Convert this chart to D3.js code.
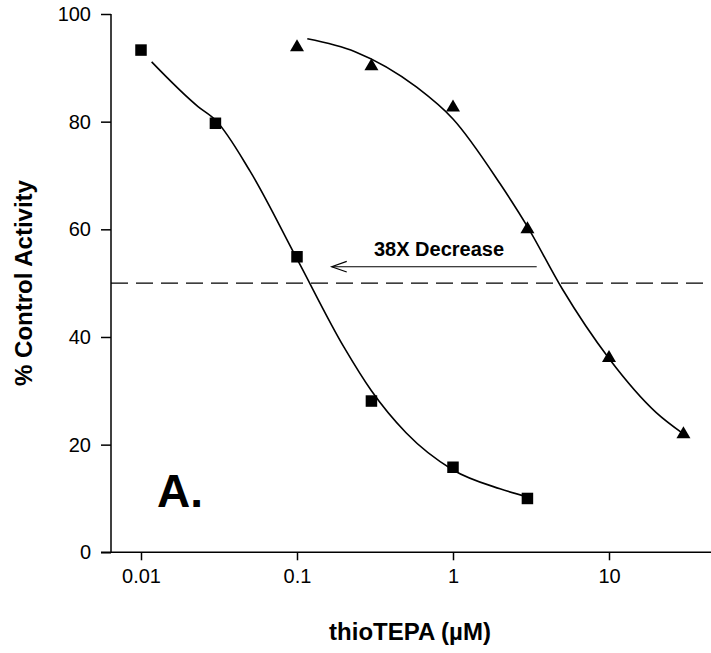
<!DOCTYPE html>
<html>
<head>
<meta charset="utf-8">
<script src="https://cdn.jsdelivr.net/npm/d3@7"></script>
<style>
  html, body { margin: 0; padding: 0; background: #fff; }
  svg { display: block; font-family: "Liberation Sans", Arial, Helvetica, sans-serif; }
</style>
</head>
<body>
<svg id="chart" width="711" height="653"></svg>
<script>
// Measured points: thioTEPA concentration (µM) vs % control activity
const squareConc = [0.01, 0.03, 0.1, 0.3, 1, 3];
const squareActivity = [93.3, 79.7, 54.9, 28.1, 15.8, 10.0];
const triangleConc = [0.1, 0.3, 1, 3, 10, 30];
const triangleActivity = [94.0, 90.5, 82.8, 60.2, 36.3, 22.1];

// Fitted dose-response curves (sampled)
const squareFitConc = [0.0117, 0.0232, 0.03, 0.05, 0.1, 0.2, 0.3, 0.5, 1, 2, 3];
const squareFitActivity = [91.1, 82.8, 80.3, 70.8, 54.5, 38.1, 30.0, 22.2, 15.3, 11.8, 10.3];
const triangleFitConc = [0.1164, 0.2355, 0.585, 1, 2, 3, 5, 10, 20, 30];
const triangleFitActivity = [95.4, 93.0, 86.4, 80.5, 68.5, 60.5, 49.0, 36.0, 26.0, 22.0];

// Axes
const xTicks = [0.01, 0.1, 1, 10];
const xTickLabels = ["0.01", "0.1", "1", "10"];
const yTicks = [0, 20, 40, 60, 80, 100];
const halfActivity = 50;

// Annotation: shift of the 50% point between the two curves
const arrowFrom = 3.44, arrowTo = 0.167, arrowLevel = 53.05;
const arrowText = "38X Decrease";
const panelLabel = "A.";
const xTitle = "thioTEPA (\u00B5M)";
const yTitle = "% Control Activity";

const svg = d3.select("#chart");

const x = d3.scaleLog().domain([0.01, 10]).range([141, 609]);
const y = d3.scaleLinear().domain([0, 100]).range([552.3, 14]);

const axisLeftX = 111, axisRightX = 711;

// x axis
const gx = svg.append("g").attr("transform", `translate(0,${y(0)})`)
  .call(d3.axisBottom(x).tickValues(xTicks).tickFormat((d, i) => xTickLabels[i])
    .tickSize(8).tickPadding(9));
gx.select(".domain").remove();
gx.selectAll(".tick line").attr("stroke", "#000").attr("stroke-width", 1.5);
gx.selectAll(".tick text").attr("font-size", 20).attr("fill", "#000");
svg.append("line")
  .attr("x1", axisLeftX - 10).attr("x2", axisRightX)
  .attr("y1", y(0)).attr("y2", y(0))
  .attr("stroke", "#000").attr("stroke-width", 1.5);

// y axis
const gy = svg.append("g").attr("transform", `translate(${axisLeftX},0)`)
  .call(d3.axisLeft(y).tickValues(yTicks).tickSize(10).tickPadding(10));
gy.select(".domain").remove();
gy.selectAll(".tick line").attr("stroke", "#000").attr("stroke-width", 1.5);
gy.selectAll(".tick text").attr("font-size", 20).attr("fill", "#000");
svg.append("line")
  .attr("x1", axisLeftX).attr("x2", axisLeftX)
  .attr("y1", y(0)).attr("y2", y(100))
  .attr("stroke", "#000").attr("stroke-width", 1.5);

// axis titles
svg.append("text")
  .attr("x", 410).attr("y", 640)
  .attr("text-anchor", "middle").attr("font-weight", "bold").attr("font-size", 24)
  .text(xTitle);
svg.append("text")
  .attr("transform", `translate(32,${283}) rotate(-90)`)
  .attr("text-anchor", "middle").attr("font-weight", "bold").attr("font-size", 24)
  .text(yTitle);

// 50% reference line
svg.append("line")
  .attr("x1", axisLeftX).attr("x2", axisRightX)
  .attr("y1", y(halfActivity)).attr("y2", y(halfActivity))
  .attr("stroke", "#000").attr("stroke-width", 1.3)
  .attr("stroke-dasharray", "17,8");

// fitted curves
const line = d3.line()
  .x(d => x(d[0])).y(d => y(d[1]))
  .curve(d3.curveMonotoneX);
svg.append("path")
  .datum(d3.zip(squareFitConc, squareFitActivity))
  .attr("d", line).attr("fill", "none").attr("stroke", "#000").attr("stroke-width", 1.6);
svg.append("path")
  .datum(d3.zip(triangleFitConc, triangleFitActivity))
  .attr("d", line).attr("fill", "none").attr("stroke", "#000").attr("stroke-width", 1.6);

// markers
const sq = 11.5;
svg.append("g").selectAll("rect")
  .data(d3.zip(squareConc, squareActivity))
  .join("rect")
  .attr("x", d => x(d[0]) - sq / 2).attr("y", d => y(d[1]) - sq / 2)
  .attr("width", sq).attr("height", sq).attr("fill", "#000");

const tri = "M0,-7L7,5L-7,5Z";
svg.append("g").selectAll("path")
  .data(d3.zip(triangleConc, triangleActivity))
  .join("path")
  .attr("transform", d => `translate(${x(d[0])},${y(d[1])})`)
  .attr("d", tri).attr("fill", "#000");

// arrow annotation
const ay = y(arrowLevel), ax0 = x(arrowFrom), ax1 = x(arrowTo);
svg.append("line")
  .attr("x1", ax0).attr("x2", ax1).attr("y1", ay).attr("y2", ay)
  .attr("stroke", "#000").attr("stroke-width", 1.2);
svg.append("path")
  .attr("d", `M${ax1 + 15},${ay - 5.3}L${ax1},${ay}L${ax1 + 15},${ay + 5.3}`)
  .attr("fill", "none").attr("stroke", "#000").attr("stroke-width", 1.2);
svg.append("text")
  .attr("x", 439).attr("y", 256)
  .attr("text-anchor", "middle").attr("font-weight", "bold").attr("font-size", 20)
  .text(arrowText);

// panel label
svg.append("text")
  .attr("x", 157).attr("y", 507)
  .attr("font-weight", "bold").attr("font-size", 46)
  .text(panelLabel);
</script>
</body>
</html>
